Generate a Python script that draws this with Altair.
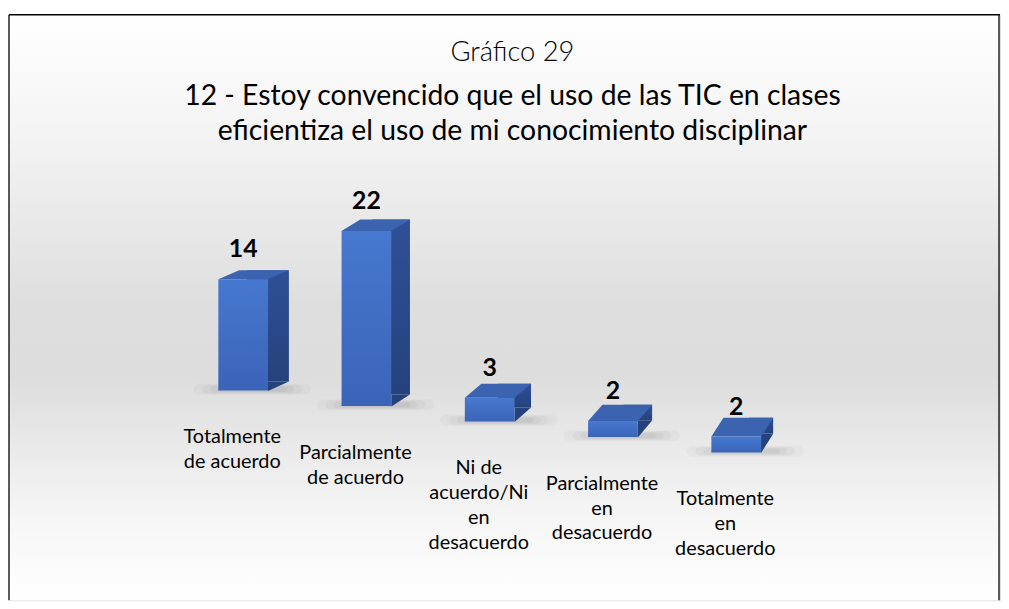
import altair as alt
import pandas as pd

categories = [
    "Totalmente de acuerdo",
    "Parcialmente de acuerdo",
    "Ni de acuerdo/Ni en desacuerdo",
    "Parcialmente en desacuerdo",
    "Totalmente en desacuerdo",
]
values = [14, 22, 3, 2, 2]
label_lines = [
    "Totalmente\nde acuerdo",
    "Parcialmente\nde acuerdo",
    "Ni de\nacuerdo/Ni\nen\ndesacuerdo",
    "Parcialmente\nen\ndesacuerdo",
    "Totalmente\nen\ndesacuerdo",
]
title_text = "Gráfico 29"
subtitle_lines = [
    "12 - Estoy convencido que el uso de las TIC en clases",
    "eficientiza el uso de mi conocimiento disciplinar",
]

W, H = 997, 589
FONT = "Lato"
FRONT_TOP, FRONT_BOT = "#4778cf", "#3a64b8"
SIDE_TOP, SIDE_BOT = "#2f5097", "#26427c"
TOP_COL = "#3c63b0"
N = len(categories)


# perspective of the 3D boxes: depth (d) and rise (t) of the faces, in pixels
def depth(i):
    return 21 - 2.2 * i


def rise(i):
    return 9 + 2.5 * i


top_paths = [f"M-25,0 L25,0 L{25 + depth(i):.1f},{-rise(i):.1f} L{-25 + depth(i):.1f},{-rise(i):.1f} Z"
             for i in range(N)]
foot_paths = [f"M25,0.5 L25,{-rise(i):.1f} L{25 + depth(i):.1f},{-rise(i):.1f} Z" for i in range(N)]

df = pd.DataFrame({
    "cat": categories,
    "value": values,
    "label": label_lines,
    "idx": list(range(N)),
})

PX = 8.0  # pixels per unit on the y scale

base = alt.Chart(df).transform_calculate(
    base="-datum.idx * 1.95",
    rise=f"(9 + 2.5 * datum.idx) / {PX}",
    sw="2 * (21 - 2.2 * datum.idx)",
).transform_calculate(
    top="datum.value + datum.base",
    side_hi="datum.value + datum.base + datum.rise",
    side_lo="datum.base + datum.rise",
)

shadow_specs = [(0.025, 118, 5.5), (0.03, 100, 4.5), (0.035, 84, 3.5), (0.04, 70, 2.5)]
for k, (_, _, hh) in enumerate(shadow_specs):
    base = base.transform_calculate(**{f"sh{k}a": f"datum.base + {hh / PX + 0.15}",
                                       f"sh{k}b": f"datum.base - {hh / PX - 0.15}"})

x_enc = alt.X("cat:N", sort=categories, axis=None,
              scale=alt.Scale(range=[162.6, 782.6], paddingInner=0, paddingOuter=0))
y_scale = alt.Scale(domain=[-26.375, 47.25], nice=False, zero=False)
y_top = alt.Y("top:Q", scale=y_scale, axis=None)
y_base = alt.Y("base:Q", scale=y_scale, axis=None)

bg = alt.Chart(alt.Data(values=[{}])).mark_rect(
    color=alt.Gradient(
        gradient="linear", x1=0, x2=0, y1=0, y2=1,
        stops=[
            alt.GradientStop(offset=0, color="#ffffff"),
            alt.GradientStop(offset=0.2, color="#f4f4f4"),
            alt.GradientStop(offset=0.5, color="#dedede"),
            alt.GradientStop(offset=0.62, color="#dddddd"),
            alt.GradientStop(offset=0.85, color="#f5f5f5"),
            alt.GradientStop(offset=1, color="#ffffff"),
        ],
    )
).encode(x=alt.value(0), x2=alt.value(W), y=alt.value(0), y2=alt.value(H))

shadows = [
    base.mark_bar(color="#000000", opacity=op, size=sz, xOffset=20, cornerRadius=hh).encode(
        x=x_enc, y=alt.Y(f"sh{k}a:Q", scale=y_scale, axis=None), y2=f"sh{k}b:Q")
    for k, (op, sz, hh) in enumerate(shadow_specs)
]

side = base.mark_bar(
    xOffset=36,
    color=alt.Gradient(gradient="linear", x1=0, x2=0, y1=0, y2=1,
                       stops=[alt.GradientStop(offset=0, color=SIDE_TOP),
                              alt.GradientStop(offset=1, color=SIDE_BOT)]),
).encode(x=x_enc, y=alt.Y("side_hi:Q", scale=y_scale, axis=None), y2="side_lo:Q",
         size=alt.Size("sw:Q", scale=None))

shape_idx = alt.Shape("idx:N", legend=None,
                      scale=alt.Scale(domain=list(range(N)), range=foot_paths))
side_foot = base.mark_point(size=4, filled=True, opacity=1,
                            color=SIDE_BOT, strokeWidth=0, xOffset=11).encode(
    x=x_enc, y=y_base, shape=shape_idx)

top_face = base.mark_point(size=4, filled=True, opacity=1,
                           color=TOP_COL, strokeWidth=0, xOffset=11).encode(
    x=x_enc, y=y_top,
    shape=alt.Shape("tidx:N", legend=None,
                    scale=alt.Scale(domain=[f"t{i}" for i in range(N)], range=top_paths)),
).transform_calculate(tidx="'t' + datum.idx")

front = base.mark_bar(
    size=50, xOffset=11,
    color=alt.Gradient(gradient="linear", x1=0, x2=0, y1=0, y2=1,
                       stops=[alt.GradientStop(offset=0, color=FRONT_TOP),
                              alt.GradientStop(offset=1, color=FRONT_BOT)]),
).encode(x=x_enc, y=y_top, y2="base:Q")

vals = base.mark_text(font=FONT, fontSize=25, fontWeight="bold", color="black",
                      baseline="alphabetic", xOffset=11, dy=-22).encode(
    x=x_enc, y=y_top, text="value:Q")

cats = base.mark_text(font=FONT, fontSize=20, color="black", baseline="top",
                      lineBreak="\n", lineHeight=25, dy=37).encode(
    x=x_enc, y=y_base, text="label:N")

one = alt.Data(values=[{}])
left = alt.Chart(one).mark_rule(color="black", strokeWidth=1.3).encode(
    x=alt.value(0), y=alt.value(0), y2=alt.value(H))
right = alt.Chart(one).mark_rule(color="black", strokeWidth=1.3).encode(
    x=alt.value(W - 1), y=alt.value(0), y2=alt.value(H))
topb = alt.Chart(one).mark_rule(color="black", strokeWidth=1.3).encode(
    x=alt.value(0), x2=alt.value(W), y=alt.value(0))

chart = alt.layer(bg, *shadows, side, side_foot, top_face, front, vals, cats,
                  left, right, topb).properties(
    width=W, height=H,
    padding={"left": 0, "top": 4, "right": 0, "bottom": 0},
    title=alt.Title(
        text=title_text, subtitle=subtitle_lines,
        font=FONT, fontSize=27.5, fontWeight=300, color="black",
        subtitleFont=FONT, subtitleFontSize=28.5, subtitleColor="black",
        subtitleLineHeight=35, subtitlePadding=16,
        anchor="middle", dx=8, offset=-132,
    ),
).resolve_scale(shape="independent").configure_view(stroke=None).configure(background="white")

chart.save("out.html", embed_options={"renderer": "svg", "actions": False})
